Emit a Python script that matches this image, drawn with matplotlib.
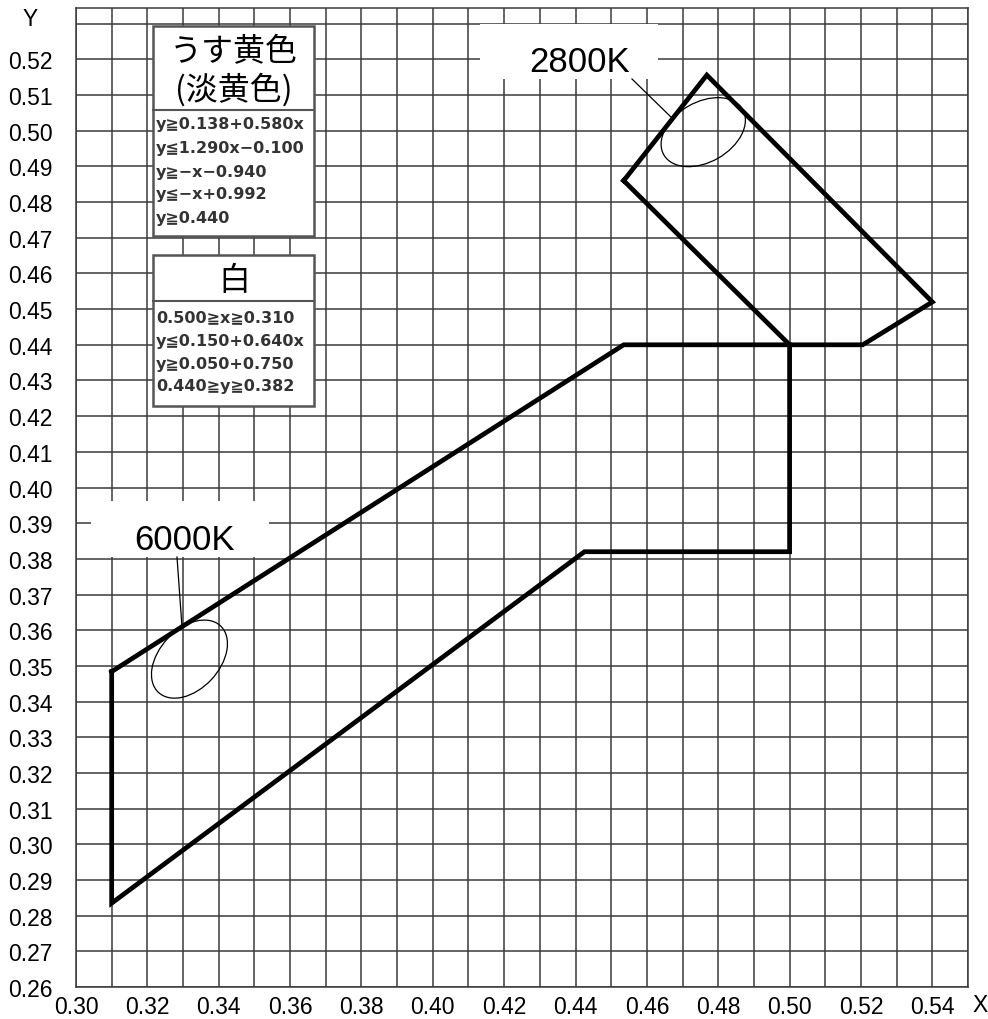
import numpy as np
import matplotlib.pyplot as plt
from matplotlib.patches import Ellipse, Rectangle
from matplotlib.lines import Line2D

# chromaticity region outlines
white_x = [0.310, 0.310, 0.4425, 0.500, 0.500, 0.4535, 0.310]
white_y = [0.3484, 0.2835, 0.382, 0.382, 0.440, 0.440, 0.3484]
yellow_x = [0.4535, 0.4768, 0.540, 0.5205, 0.500, 0.4535]
yellow_y = [0.4860, 0.5156, 0.452, 0.440, 0.440, 0.4860]

# colour temperature ellipses
cct_labels = ['6000K', '2800K']
ell_cx = [0.3318, 0.4758]
ell_cy = [0.3519, 0.4996]
ell_w = [0.0255, 0.0255]
ell_h = [0.0168, 0.0168]
ell_ang = [47, 30]

x_ticks = np.round(np.arange(0.30, 0.5501, 0.01), 2)
y_ticks = np.round(np.arange(0.26, 0.5301, 0.01), 2)

yellow_title = ['うす黄色', '(淡黄色)']
yellow_rules = ['y≧0.138+0.580x', 'y≦1.290x−0.100', 'y≧−x−0.940',
                'y≦−x+0.992', 'y≧0.440']
white_title = ['白']
white_rules = ['0.500≧x≧0.310', 'y≦0.150+0.640x', 'y≧0.050+0.750',
               '0.440≧y≧0.382']

W, H = 988, 1020
fig = plt.figure(figsize=(W / 100, H / 100), dpi=100)
ax = fig.add_axes([76 / W, 1 - 988 / H, (968 - 76) / W, (988 - 9) / H])


def px(x, y):
    return x / W, 1 - y / H


ax.set_xlim(0.30, 0.55)
ax.set_ylim(0.26, 0.5344)
ax.set_xticks(x_ticks)
ax.set_xticklabels(['%.2f' % v if i % 2 == 0 and v < 0.545 else ''
                    for i, v in enumerate(x_ticks)])
ax.set_yticks(y_ticks)
ax.set_yticklabels(['%.2f' % v if v < 0.525 else '' for v in y_ticks])
tick_font = ['Liberation Sans', 'DejaVu Sans']
ax.tick_params(length=0, labelsize=16.5)
ax.tick_params(axis='x', pad=6)
ax.tick_params(axis='y', pad=17)
for lab in ax.get_xticklabels() + ax.get_yticklabels():
    lab.set_family(tick_font)
ax.grid(True, color='#3a3a3a', lw=1.1)
for s in ax.spines.values():
    s.set_color('#3a3a3a')
    s.set_linewidth(1.1)

fig.text(*px(30, 20), 'Y', fontsize=16.5, family=tick_font, ha='center', va='center')
fig.text(*px(980, 1006), 'X', fontsize=16.5, family=tick_font, ha='center', va='center')

ax.plot(white_x, white_y, color='black', lw=3.4, solid_joinstyle='miter', zorder=5)
ax.plot(yellow_x, yellow_y, color='black', lw=3.4, solid_joinstyle='miter', zorder=5)

for cx, cy, w, h, a in zip(ell_cx, ell_cy, ell_w, ell_h, ell_ang):
    ax.add_patch(Ellipse((cx, cy), w, h, angle=a, fill=False, ec='black', lw=0.9, zorder=6))

# white label boxes behind the temperature labels
for (x0, y0, x1, y1) in [(91, 502, 269, 558), (480, 25, 658, 80)]:
    fig.add_artist(Rectangle(px(x0, y1), (x1 - x0) / W, (y1 - y0) / H,
                             transform=fig.transFigure, fc='white', ec='none', zorder=3))
fig.text(*px(185, 541), cct_labels[0], fontsize=25, family=tick_font,
         ha='center', va='center', zorder=4)
fig.text(*px(580, 62), cct_labels[1], fontsize=25, family=tick_font,
         ha='center', va='center', zorder=4)
for (x0, y0, x1, y1) in [(177, 558, 182, 628), (632, 80, 673, 120)]:
    fig.add_artist(Line2D([x0 / W, x1 / W], [1 - y0 / H, 1 - y1 / H],
                          transform=fig.transFigure, color='black', lw=0.9, zorder=4))

# legend boxes with the region definitions
cjk = ['Noto Sans CJK JP', 'DejaVu Sans']
rule_font = ['DejaVu Sans', 'Noto Sans CJK JP']


def rule_box(top, div, bottom, titles, title_y, rules, rule_y):
    fig.add_artist(Rectangle(px(153, bottom), (314 - 153) / W, (bottom - top) / H,
                             transform=fig.transFigure, fc='white', ec='#555555',
                             lw=1.8, zorder=3))
    fig.add_artist(Line2D([153 / W, 314 / W], [1 - div / H, 1 - div / H],
                          transform=fig.transFigure, color='#555555', lw=1.5, zorder=4))
    for t, ty in zip(titles, title_y):
        fig.text(*px(234, ty), t, fontsize=23, family=cjk, ha='center', va='center', zorder=4)
    for r, ry in zip(rules, rule_y):
        fig.text(*px(156, ry), r, fontsize=11.5, family=rule_font, weight='bold',
                 color='#333333', ha='left', va='center', zorder=4)


rule_box(27, 111, 237, yellow_title, [52, 90], yellow_rules, [125, 148, 172, 195, 219])
rule_box(256, 302, 407, white_title, [281], white_rules, [318, 342, 365, 387])

fig.savefig('out.png', dpi=100)
